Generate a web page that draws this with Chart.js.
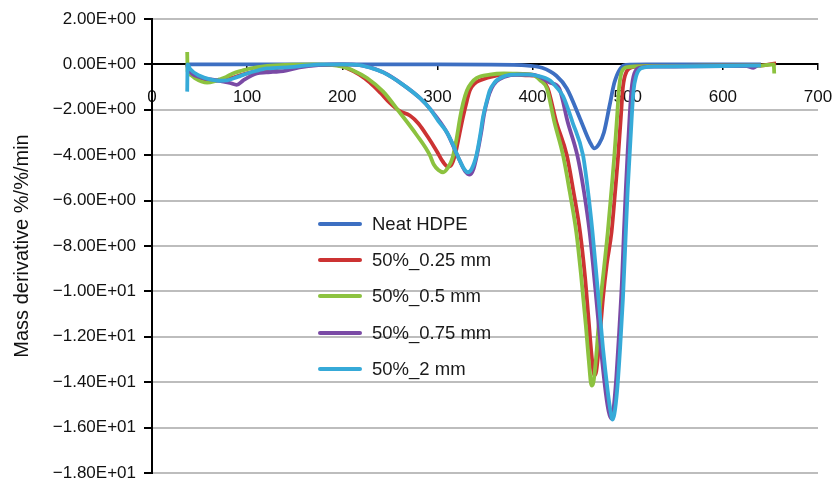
<!DOCTYPE html>
<html>
<head>
<meta charset="utf-8">
<script src="https://cdn.jsdelivr.net/npm/chart.js@4.4.0/dist/chart.umd.min.js"></script>
<style>
    body { margin: 0; background: #fff; }
    .wrap { position: relative; width: 835px; height: 479px; }
    .legend { position: absolute; left: 318px; top: 206px; font-family: "Liberation Sans", Arial, sans-serif; font-size: 18.5px; color: #1a1a1a; }
    .legend-item { display: flex; align-items: center; height: 36.2px; }
    .legend-item span.swatch { display: inline-block; width: 44px; height: 4px; border-radius: 2px; margin-right: 10px; }
</style>
</head>
<body>
<div class="wrap">
    <canvas id="dtgChart" width="835" height="479"></canvas>
    <div class="legend" id="legend"></div>
</div>
<script>
// --- DATA (temperature in °C, mass derivative in %/min) ---
const seriesNames = ['Neat HDPE', '50%_0.25 mm', '50%_0.5 mm', '50%_0.75 mm', '50%_2 mm'];
const seriesColors = ['#3d6fc2', '#cc3333', '#8cc23f', '#7a4aa5', '#36aad8'];

const hdpeX = [37, 100, 200, 300, 380, 395, 410, 425, 436, 450, 460, 465, 470, 475, 481, 486, 492, 498, 520, 600, 640];
const hdpeY = [0, 0, 0, 0, -0.02, -0.05, -0.15, -0.5, -1.06, -2.4, -3.4, -3.7, -3.5, -3.0, -1.8, -0.8, -0.2, -0.02, 0, 0, 0];

const d025X = [37, 38, 45, 55, 65, 80, 95, 113, 130, 145, 170, 195, 205, 218, 229, 240, 250, 260, 271, 280, 290, 299, 306, 311, 315, 319, 323, 327, 331, 334, 339, 345, 362, 380, 395, 402, 410, 416, 425, 436, 443, 450, 455, 459, 462, 465, 467, 470, 474, 478, 483, 487, 490, 493, 495, 499, 505, 520, 600, 640, 656];
const d025Y = [0, -0.2, -0.5, -0.68, -0.72, -0.65, -0.45, -0.26, -0.17, -0.1, -0.03, -0.03, -0.17, -0.45, -0.8, -1.25, -1.7, -2.05, -2.25, -2.6, -3.2, -3.8, -4.3, -4.5, -4.4, -3.9, -3.1, -2.3, -1.6, -1.15, -0.85, -0.7, -0.5, -0.45, -0.48, -0.5, -0.7, -1.06, -2.55, -4.0, -5.6, -7.4, -9.3, -11.3, -12.8, -13.7, -13.5, -12.3, -10.3, -8.8, -7.4, -5.5, -4.0, -2.2, -1.0, -0.3, -0.12, -0.08, -0.05, -0.05, 0.05];

const d05X = [37, 37.4, 40, 45, 52, 58, 65, 71, 78, 85, 95, 103, 121, 140, 170, 200, 213, 226, 243, 260, 278, 292, 296, 301, 306, 311, 316, 320, 324, 327, 331, 336, 341, 355, 370, 390, 400, 408, 415, 423, 432, 439, 446, 451, 456, 459, 462, 464, 467, 471, 475, 479, 483, 486, 489, 491, 494, 500, 520, 580, 640, 653.5, 654];
const d05Y = [0.55, -0.3, -0.45, -0.6, -0.75, -0.8, -0.75, -0.66, -0.55, -0.4, -0.27, -0.18, -0.07, -0.02, 0, -0.1, -0.3, -0.6, -1.2, -2.1, -3.1, -4.0, -4.4, -4.65, -4.75, -4.55, -4.1, -3.3, -2.3, -1.7, -1.15, -0.8, -0.6, -0.45, -0.4, -0.42, -0.45, -0.7, -1.06, -2.55, -4.0, -5.6, -7.4, -9.3, -11.5, -13.0, -14.15, -14.0, -12.8, -10.6, -9.0, -7.4, -5.5, -4.0, -2.2, -1.0, -0.3, -0.12, -0.08, -0.05, -0.05, 0, -0.4];

const d075X = [37, 39, 50, 68, 82, 89, 96, 110, 120, 127, 138, 155, 175, 200, 218, 243, 264, 282, 292, 310, 323, 329, 334, 338, 342, 346, 349, 353, 357, 362, 370, 385, 398, 405, 418, 428, 437, 447, 454, 460, 466, 472, 477, 480, 482.5, 485, 488, 491, 494, 496, 498, 500, 502, 504, 507, 513, 530, 600, 625, 632, 636];
const d075Y = [0, -0.25, -0.55, -0.7, -0.82, -0.9, -0.7, -0.4, -0.35, -0.33, -0.3, -0.13, -0.03, 0, -0.03, -0.35, -0.9, -1.5, -1.95, -3.0, -4.2, -4.7, -4.85, -4.6, -3.9, -3.0, -2.2, -1.5, -1.05, -0.75, -0.55, -0.45, -0.45, -0.5, -0.8, -1.06, -2.55, -4.0, -5.6, -7.4, -9.9, -12.6, -14.5, -15.3, -15.6, -15.2, -13.8, -11.8, -9.5, -7.4, -5.5, -3.8, -2.3, -1.1, -0.4, -0.15, -0.1, -0.07, -0.08, -0.15, -0.05];

const d2X = [37, 37.4, 40, 50, 61, 70, 79, 90, 100, 110, 121, 145, 170, 200, 218, 230, 243, 264, 282, 292, 301, 310, 317, 323, 328, 332, 336, 341, 345, 348, 352, 355, 360, 366, 379, 395, 405, 418, 425, 432, 442, 453, 458, 463, 468, 474, 479, 482, 484, 486, 489, 492, 495, 498, 500, 502, 504, 506, 509, 515, 530, 600, 640];
const d2Y = [-1.2, 0, -0.2, -0.5, -0.66, -0.72, -0.7, -0.55, -0.4, -0.28, -0.18, -0.12, -0.02, 0, -0.03, -0.15, -0.35, -0.9, -1.5, -1.95, -2.5, -3.0, -3.6, -4.2, -4.6, -4.75, -4.6, -4.0, -3.1, -2.3, -1.6, -1.15, -0.8, -0.6, -0.45, -0.45, -0.5, -0.7, -1.0, -1.4, -2.55, -4.0, -5.5, -7.4, -9.7, -12.5, -14.4, -15.3, -15.65, -15.4, -14.3, -12.5, -10.3, -7.4, -5.5, -4.0, -2.5, -1.2, -0.5, -0.15, -0.1, -0.07, -0.05];

const xTicksMin = 0, xTicksMax = 700, xTickStep = 100;
const yTicksMin = -18, yTicksMax = 2, yTickStep = 2;

// --- HELPERS ---
const toPoints = (xs, ys) => xs.map((x, i) => ({ x: x, y: ys[i] }));

function sciLabel(v) {
    // Excel-style scientific label, e.g. −1.20E+01
    const parts = Math.abs(v).toExponential(2).split('e');
    const exp = parseInt(parts[1], 10);
    const expStr = (exp < 0 ? '-' : '+') + String(Math.abs(exp)).padStart(2, '0');
    return (v < 0 ? '\u2212' : '') + parts[0] + 'E' + expStr;
}

const seriesData = [
    toPoints(hdpeX, hdpeY),
    toPoints(d025X, d025Y),
    toPoints(d05X, d05Y),
    toPoints(d075X, d075Y),
    toPoints(d2X, d2Y)
];

const fontFamily = '"Liberation Sans", Arial, sans-serif';

const datasets = seriesNames.map((name, i) => ({
    label: name,
    data: seriesData[i],
    borderColor: seriesColors[i],
    backgroundColor: seriesColors[i],
    borderWidth: 3.8,
    pointRadius: 0,
    fill: false,
    cubicInterpolationMode: 'monotone',
    order: seriesNames.length - i   // later series on top, like the original
}));

const ctx = document.getElementById('dtgChart');
const dtgChart = new Chart(ctx, {
    type: 'line',
    data: { datasets: datasets },
    options: {
        responsive: false,
        animation: false,
        layout: { padding: { top: 19, right: 17, bottom: 6, left: 0 } },
        plugins: { legend: { display: false }, tooltip: { enabled: false } },
        scales: {
            x: {
                type: 'linear',
                min: xTicksMin, max: xTicksMax,
                position: { y: 0 },
                ticks: { stepSize: xTickStep, color: '#111', padding: 18, maxRotation: 0, font: { family: fontFamily, size: 17 } },
                grid: { drawOnChartArea: false, tickLength: 5, color: '#000', lineWidth: 1.5 },
                border: { color: '#000', width: 2 },
                afterFit: scale => { scale.paddingLeft = 0; scale.paddingRight = 0; scale.paddingTop = 0; scale.paddingBottom = 0; }
            },
            y: {
                type: 'linear',
                min: yTicksMin, max: yTicksMax,
                ticks: { stepSize: yTickStep, color: '#111', padding: 8, font: { family: fontFamily, size: 17 }, callback: v => sciLabel(v) },
                grid: {
                    color: c => (c.tick && c.tick.value === 0) ? 'rgba(0,0,0,0)' : '#bdbdbd',
                    tickColor: '#000',
                    lineWidth: 2,
                    tickLength: 8
                },
                border: { color: '#000', width: 2 },
                title: { display: true, text: 'Mass derivative %/%/min', color: '#111', font: { family: fontFamily, size: 20 }, padding: { top: 10, bottom: 0 } },
                afterFit: scale => { scale.width = 152; scale.paddingTop = 0; scale.paddingBottom = 0; }
            }
        }
    }
});

// --- HTML LEGEND ---
const legendEl = document.getElementById('legend');
dtgChart.data.datasets.forEach(ds => {
    const item = document.createElement('div');
    item.className = 'legend-item';
    const sw = document.createElement('span');
    sw.className = 'swatch';
    sw.style.background = ds.borderColor;
    const txt = document.createElement('span');
    txt.textContent = ds.label;
    item.appendChild(sw);
    item.appendChild(txt);
    legendEl.appendChild(item);
});
</script>
</body>
</html>
